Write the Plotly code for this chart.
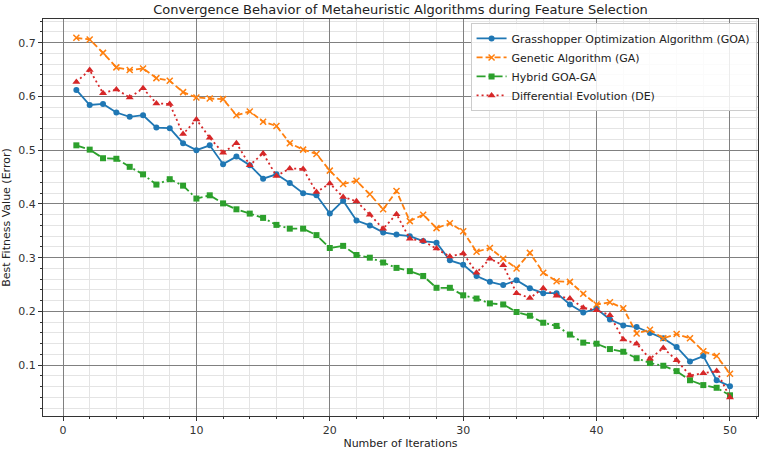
import plotly.graph_objects as go

iterations = list(range(1, 51))

goa = [0.612, 0.584, 0.586, 0.570, 0.562, 0.565, 0.542, 0.541, 0.513, 0.500,
       0.509, 0.474, 0.488, 0.472, 0.447, 0.455, 0.439, 0.420, 0.416, 0.382,
       0.406, 0.369, 0.360, 0.347, 0.343, 0.340, 0.331, 0.328, 0.295, 0.287,
       0.266, 0.255, 0.249, 0.258, 0.243, 0.234, 0.234, 0.213, 0.198, 0.205,
       0.185, 0.174, 0.171, 0.160, 0.150, 0.134, 0.107, 0.117, 0.072, 0.061]

ga = [0.709, 0.706, 0.681, 0.654, 0.649, 0.652, 0.634, 0.629, 0.608, 0.598,
      0.596, 0.595, 0.565, 0.572, 0.553, 0.545, 0.513, 0.501, 0.493, 0.462,
      0.437, 0.443, 0.418, 0.390, 0.424, 0.368, 0.380, 0.355, 0.364, 0.349,
      0.311, 0.318, 0.298, 0.280, 0.309, 0.272, 0.256, 0.255, 0.233, 0.213,
      0.217, 0.206, 0.159, 0.166, 0.150, 0.158, 0.150, 0.126, 0.117, 0.084]

hybrid = [0.509, 0.501, 0.485, 0.484, 0.469, 0.455, 0.436, 0.446, 0.434, 0.410,
          0.416, 0.401, 0.390, 0.382, 0.374, 0.361, 0.354, 0.354, 0.342, 0.318,
          0.322, 0.305, 0.300, 0.291, 0.281, 0.275, 0.266, 0.244, 0.244, 0.230,
          0.224, 0.215, 0.213, 0.199, 0.192, 0.179, 0.173, 0.157, 0.142, 0.140,
          0.130, 0.125, 0.113, 0.104, 0.099, 0.089, 0.072, 0.063, 0.058, 0.044]

de = [0.627, 0.649, 0.606, 0.613, 0.598, 0.615, 0.587, 0.586, 0.530, 0.557,
      0.523, 0.495, 0.513, 0.472, 0.494, 0.452, 0.466, 0.465, 0.422, 0.438,
      0.413, 0.405, 0.380, 0.354, 0.381, 0.335, 0.331, 0.317, 0.302, 0.308,
      0.272, 0.298, 0.286, 0.234, 0.225, 0.243, 0.229, 0.224, 0.207, 0.202,
      0.193, 0.148, 0.140, 0.112, 0.132, 0.109, 0.081, 0.085, 0.089, 0.040]

names = ["Grasshopper Optimization Algorithm (GOA)", "Genetic Algorithm (GA)",
         "Hybrid GOA-GA", "Differential Evolution (DE)"]

FONT = "DejaVu Sans"
fig = go.Figure()

fig.add_trace(go.Scatter(x=iterations, y=goa, name=names[0], mode="lines+markers",
                         line=dict(color="#1f77b4", width=1.8),
                         marker=dict(symbol="circle", size=6, color="#1f77b4")))
fig.add_trace(go.Scatter(x=iterations, y=ga, name=names[1], mode="lines+markers",
                         line=dict(color="#ff7f0e", width=1.8, dash="6px,3px"),
                         marker=dict(symbol="x-thin", size=6, color="#ff7f0e",
                                     line=dict(color="#ff7f0e", width=1.5))))
fig.add_trace(go.Scatter(x=iterations, y=hybrid, name=names[2], mode="lines+markers",
                         line=dict(color="#2ca02c", width=1.8, dash="9px,3px,2px,3px"),
                         marker=dict(symbol="square", size=6, color="#2ca02c")))
fig.add_trace(go.Scatter(x=iterations, y=de, name=names[3], mode="lines+markers",
                         line=dict(color="#d62728", width=1.8, dash="2px,3px"),
                         marker=dict(symbol="triangle-up", size=7, color="#d62728")))

axis_common = dict(
    showline=True, linecolor="#333333", linewidth=1, mirror=True,
    ticks="outside", ticklen=4, tickcolor="#333333",
    showgrid=True, gridcolor="#808080", gridwidth=1, zeroline=False,
    tickfont=dict(family=FONT, size=11, color="#333333"),
    automargin=False,
)

fig.update_xaxes(
    range=[-1.5, 52.1], tickmode="linear", tick0=0, dtick=10,
    minor=dict(tick0=0, dtick=2, ticks="outside", ticklen=2, tickcolor="#333333",
               showgrid=True, gridcolor="#e4e4e4", gridwidth=1),
    title=dict(text="Number of Iterations", font=dict(family=FONT, size=11, color="#222"),
               standoff=6),
    **axis_common,
)
fig.update_yaxes(
    range=[0.0055, 0.744], tickmode="linear", tick0=0, dtick=0.1, tickformat=".1f",
    minor=dict(tick0=0, dtick=0.02, ticks="outside", ticklen=2, tickcolor="#333333",
               showgrid=True, gridcolor="#e4e4e4", gridwidth=1),
    title=dict(text="Best Fitness Value (Error)", font=dict(family=FONT, size=11, color="#222"),
               standoff=6),
    **axis_common,
)

fig.update_layout(
    width=767, height=450,
    margin=dict(l=43, r=9, t=19, b=34),
    paper_bgcolor="white", plot_bgcolor="white",
    font=dict(family=FONT, size=11, color="#222"),
    title=dict(text="Convergence Behavior of Metaheuristic Algorithms during Feature Selection",
               x=0.5, xref="paper", xanchor="center",
               y=1 - 9 / 450, yref="container", yanchor="middle",
               font=dict(family=FONT, size=13, color="#222")),
    legend=dict(x=0.998, xanchor="right", y=0.99, yanchor="top",
                bgcolor="rgba(255,255,255,0.85)", bordercolor="#cccccc", borderwidth=1,
                font=dict(family=FONT, size=11, color="#222"),
                tracegroupgap=0, itemwidth=30),
    showlegend=True,
)

fig.write_html("out.html")
